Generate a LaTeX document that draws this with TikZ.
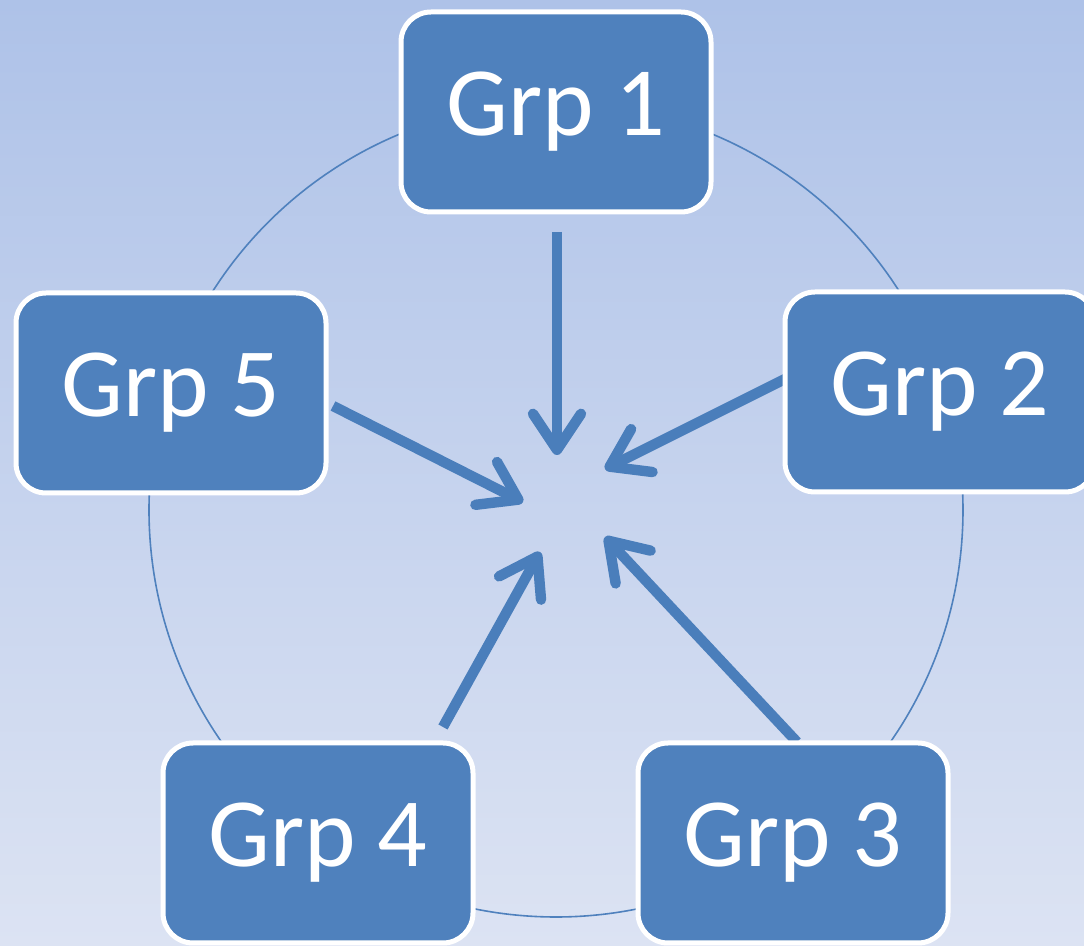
\documentclass[tikz,border=0pt]{standalone}
\usepackage{fontspec}
\setmainfont{Carlito}
\usetikzlibrary{arrows.meta}
\definecolor{boxblue}{HTML}{4F81BD}
\definecolor{arrowblue}{HTML}{4A7EBB}
\definecolor{bgtop}{HTML}{AEC2E8}
\definecolor{bgbot}{HTML}{DCE3F3}

\begin{document}
\begin{tikzpicture}[x=0.5pt,y=-0.5pt,
  grp/.style={draw=white, line width=2.5pt, fill=boxblue, rounded corners=15pt,
    minimum width=155pt, minimum height=100pt, inner sep=0pt,
    text=white, font=\fontsize{49}{58}\selectfont},
  flow/.style={draw=arrowblue, line width=5.2pt,
    -{Straight Barb[round,length=18pt,width=24pt]}},
  ring/.style={draw=boxblue, line width=0.8pt}]

\useasboundingbox (0,0) rectangle (1084,946);
\clip (0,0) rectangle (1084,946);
\shade[top color=bgtop, bottom color=bgbot] (0,0) rectangle (1084,946);

% ring behind the five groups
\draw[ring] (556,510) circle[radius=203.5pt];

% arrow end points
\coordinate (s1) at (557,232); \coordinate (e1) at (557,455);
\coordinate (s2) at (787,378); \coordinate (e2) at (605,469);
\coordinate (s3) at (797,742); \coordinate (e3) at (605,537);
\coordinate (s4) at (443,727); \coordinate (e4) at (540,552);
\coordinate (s5) at (333,406); \coordinate (e5) at (523,502);

\foreach \i in {1,...,5} \draw[flow] (s\i) -- (e\i);

% groups
\node[grp] (g1) at (556,112) {Grp 1};
\node[grp] (g2) at (940,392) {Grp 2};
\node[grp] (g3) at (793,843) {Grp 3};
\node[grp] (g4) at (318,843) {Grp 4};
\node[grp] (g5) at (171,393) {Grp 5};
\end{tikzpicture}
\end{document}
